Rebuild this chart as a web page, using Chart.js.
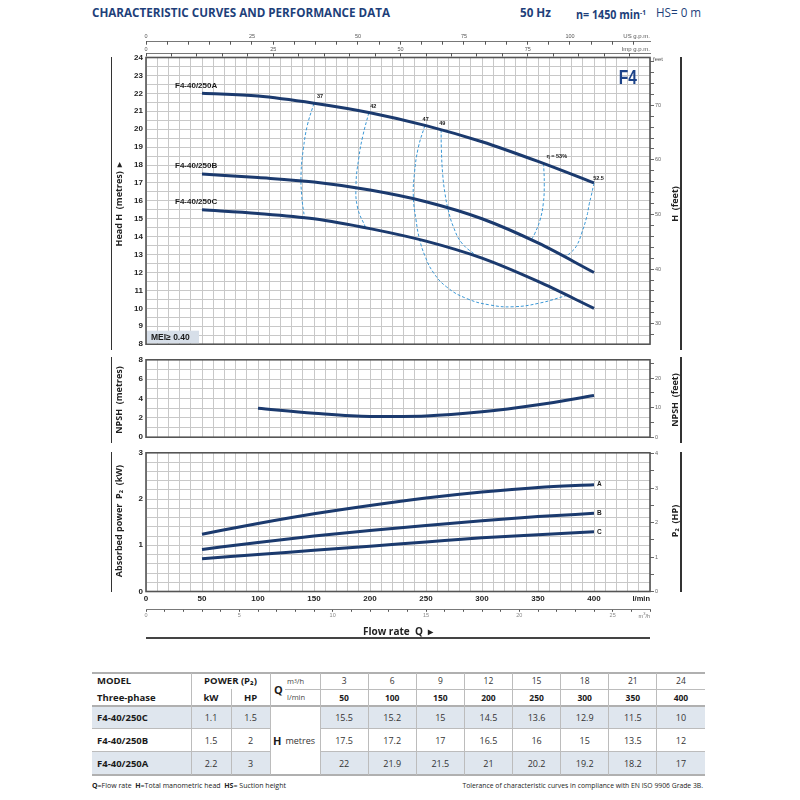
<!DOCTYPE html>
<html><head><meta charset="utf-8">
<script src="https://cdn.jsdelivr.net/npm/chart.js@4.4.1/dist/chart.umd.min.js"></script>
<style>
body{margin:0;width:800px;height:800px;position:relative;overflow:hidden;background:#fff;font-family:'Open Sans','Liberation Sans',sans-serif;color:#1a1a1a;}
.a{position:absolute;white-space:nowrap;}
canvas{position:absolute;left:0;}
.rot{position:absolute;transform:translate(-50%,-50%) rotate(-90deg);white-space:nowrap;font-weight:bold;font-size:9px;color:#222;line-height:11px;}
.hd{position:absolute;white-space:nowrap;font-weight:bold;font-size:12.5px;line-height:14px;color:#1e3f7a;transform-origin:0 50%;}
.sm{position:absolute;white-space:nowrap;font-family:'Liberation Sans',sans-serif;color:#555;transform:translateY(-50%);}
.c{display:flex;align-items:center;justify-content:center;}
.l{display:flex;align-items:center;justify-content:flex-start;}
</style></head><body>

<div class="hd" id="t1" style="left:92px;top:5.5px;">CHARACTERISTIC CURVES AND PERFORMANCE DATA</div>
<div class="hd" id="t2" style="left:520px;top:5.5px;">50 Hz</div>
<div class="hd" id="t3" style="left:576px;top:5.5px;font-size:11.5px;">n= 1450 min<span style="font-size:7px;vertical-align:4px">-1</span></div>
<div class="hd" id="t4" style="left:656px;top:5.5px;font-weight:normal;">HS= 0 m</div>

<canvas id="cH" width="800" height="352" style="top:0;width:800px;height:352px"></canvas>
<canvas id="cN" width="800" height="93" style="top:352px;width:800px;height:93px"></canvas>
<canvas id="cP" width="800" height="180" style="top:445px;width:800px;height:180px"></canvas>

<div class="sm" style="right:150px;top:36px;font-size:6px;">US g.p.m.</div>
<div class="sm" style="right:150px;top:49px;font-size:6px;">Imp g.p.m.</div>
<div class="sm" style="left:653px;top:59px;font-size:6px;">feet</div>
<div class="sm" style="right:150px;top:598px;font-size:7.5px;font-weight:bold;color:#222;">l/min</div>
<div class="sm" style="right:150px;top:615px;font-size:5.5px;color:#777;">m<sup style="font-size:4px">3</sup>/h</div>
<div class="a" style="left:398px;top:631px;transform:translate(-50%,-50%);font-weight:bold;font-size:10px;color:#222;">Flow rate&nbsp; Q&nbsp; ▸</div>
<div class="a" style="left:146px;top:636.5px;width:504px;height:2px;background:#444;"></div>

<div class="a" style="left:110.5px;top:57px;width:1.5px;height:293px;background:#333;"></div>
<div class="a" style="left:110.5px;top:357px;width:1.5px;height:86px;background:#333;"></div>
<div class="a" style="left:110.5px;top:451.5px;width:1.5px;height:140px;background:#333;"></div>
<div class="a" style="left:680px;top:57px;width:1.5px;height:293px;background:#333;"></div>
<div class="a" style="left:680px;top:357px;width:1.5px;height:86px;background:#333;"></div>
<div class="a" style="left:680px;top:451.5px;width:1.5px;height:140px;background:#333;"></div>

<div class="rot" style="left:118px;top:204px;">Head H&nbsp; (metres)&nbsp; ▸</div>
<div class="rot" style="left:118px;top:400px;">NPSH&nbsp; (metres)</div>
<div class="rot" style="left:118px;top:521px;">Absorbed power&nbsp; P₂&nbsp; (kW)</div>
<div class="rot" style="left:674px;top:204px;">H&nbsp; (feet)</div>
<div class="rot" style="left:674px;top:400px;">NPSH&nbsp; (feet)</div>
<div class="rot" style="left:674px;top:521px;">P₂&nbsp; (HP)</div>

<script>
// ---------- DATA ----------
const flowLmin = [50, 100, 150, 200, 250, 300, 350, 400];
const flowM3h  = [3, 6, 9, 12, 15, 18, 21, 24];
// table values (H metres)
const headA = [22, 21.9, 21.5, 21, 20.2, 19.2, 18.2, 17];
const headB = [17.5, 17.2, 17, 16.5, 16, 15, 13.5, 12];
const headC = [15.5, 15.2, 15, 14.5, 13.6, 12.9, 11.5, 10];
// head curves
const curveA = [22.0, 21.85, 21.45, 20.92, 20.2, 19.3, 18.2, 17.0];
const curveB = [17.5, 17.3, 17.05, 16.6, 15.95, 15.0, 13.65, 12.0];
const curveC = [15.5, 15.3, 15.0, 14.45, 13.75, 12.8, 11.5, 10.0];
const models  = ['F4-40/250C', 'F4-40/250B', 'F4-40/250A'];
const powerKW = [1.1, 1.5, 2.2];
const powerHP = [1.5, 2, 3];
const npshFlow = [100, 150, 200, 250, 300, 350, 400];
const npshM    = [3.0, 2.47, 2.14, 2.2, 2.62, 3.35, 4.3];
const powerA = [1.24, 1.47, 1.68, 1.86, 2.02, 2.15, 2.25, 2.31];
const powerB = [0.91, 1.06, 1.2, 1.32, 1.43, 1.53, 1.62, 1.69];
const powerC = [0.71, 0.80, 0.89, 0.98, 1.07, 1.16, 1.23, 1.29];
// iso-efficiency curves [Q l/min, H m]
const eff37  = [[150,21.45],[144,20.2],[140.5,18.9],[138.5,17.6],[139,16.3],[141.5,15.05]];
const eff42  = [[199,20.93],[193.5,19.6],[190,18.4],[187.5,16.9],[189,15.6],[196,14.52]];
const eff47  = [[249,20.21],[243,18.94],[239.6,17.48],[238.7,16.21],[241.1,14.93],[244,13.92],[249.1,12.92],[256.5,12.01],[268.5,11.19],[286.3,10.55],[307.1,10.19],[328,10.09],[351.8,10.3],[375.6,10.72]];
const eff49  = [[263.5,19.98],[263.7,18.94],[264.9,17.48],[267,16.39],[269.9,15.48],[274.4,14.56],[281.9,13.65],[295.3,12.92]];
const eff53  = [[355,18.1],[355.6,16.93],[354.7,15.84],[351.8,14.93],[347.3,14.2],[343.8,13.8]];
const eff525 = [[400,17],[397.6,16.3],[395.8,15.84],[393.5,15.11],[389,14.2],[384.5,13.5],[378.6,13.08],[373.5,12.88]];
const effLabels = [['37',155.4,21.83],['42',203,21.29],['47',249.7,20.53],['49',264.6,20.31],['η = 53%',366.7,18.45],['52.5',404,17.26]];

// ---------- constants ----------
const M2FT = 3.28084, LMIN_PER_USG = 3.78541, LMIN_PER_IMP = 4.54609, KW_PER_HP = 0.7457, M3H_PER_LMIN = 0.06;
const QMAX = 450;
const NAVY = '#1b3a6e', EFF = '#3b98d6', GRID = '#c8c8c8';
const FAM = "'Liberation Sans', Arial, sans-serif";
const tickFont = {family: FAM, size: 8, weight: 'bold'};
const smallFont = {family: FAM, size: 5.5};

Chart.defaults.font.family = FAM;

const pts = (xs, ys) => xs.map((x, i) => ({x, y: ys[i]}));
const pairs = arr => arr.map(([x, y]) => ({x, y}));
const mainLine = (data) => ({data, showLine: true, borderColor: NAVY, borderWidth: 3, pointRadius: 0, cubicInterpolationMode: 'monotone', fill: false});
const effLine = (data) => ({data, showLine: true, borderColor: EFF, borderWidth: 1, borderDash: [3, 2], pointRadius: 0, tension: 0.45, fill: false});

const frame = {
  id: 'frame',
  beforeDatasetsDraw(chart) {
    const {ctx, chartArea: a} = chart;
    ctx.save(); ctx.strokeStyle = '#555'; ctx.lineWidth = 1.6;
    ctx.strokeRect(a.left, a.top, a.right - a.left, a.bottom - a.top);
    ctx.restore();
  }
};
const annot = {
  id: 'annot',
  afterDatasetsDraw(chart, args, opts) {
    const ctx = chart.ctx, xs = chart.scales.x, ys = chart.scales.y, a = chart.chartArea;
    ctx.save();
    (opts.texts || []).forEach(t => {
      ctx.font = t.font; ctx.fillStyle = t.color || '#1a1a1a';
      ctx.textAlign = t.align || 'center'; ctx.textBaseline = 'middle';
      ctx.fillText(t.text, xs.getPixelForValue(t.x) + (t.dx || 0), ys.getPixelForValue(t.y) + (t.dy || 0));
    });
    if (opts.mei) {
      ctx.fillStyle = '#d7dfe9';
      ctx.fillRect(a.left + 1, a.bottom - 13.5, 52, 12.5);
      ctx.fillStyle = '#1a1a1a'; ctx.font = 'bold 8.5px ' + FAM; ctx.textAlign = 'left';
      ctx.fillText('MEI≥ 0.40', a.left + 5, a.bottom - 7);
    }
    if (opts.f4) {
      ctx.translate(a.right - 13, a.top + 26);
      ctx.scale(0.74, 1);
      ctx.fillStyle = '#1d4389'; ctx.font = 'bold 21px ' + FAM; ctx.textAlign = 'right'; ctx.textBaseline = 'alphabetic';
      ctx.fillText('F4', 0, 0);
    }
    ctx.restore();
  }
};

const hiddenX = (extra) => Object.assign({type: 'linear', position: 'bottom', min: 0, max: QMAX,
  ticks: {stepSize: 10, display: false, autoSkip: false},
  grid: {color: GRID, drawTicks: false, lineWidth: 1}, border: {display: false},
  afterFit: s => { s.height = 0; }}, extra || {});
const baseOpts = (padding, scales, plugOpts) => ({
  responsive: false, animation: false, events: [],
  layout: {padding},
  plugins: Object.assign({legend: {display: false}, tooltip: {enabled: false}}, plugOpts),
  scales
});

// ---------- HEAD CHART ----------
const nameFont = 'bold 8px ' + FAM, effFont = 'bold 5.5px ' + FAM;
new Chart(document.getElementById('cH'), {
  type: 'scatter',
  data: {datasets: [
    mainLine(pts(flowLmin, curveA)), mainLine(pts(flowLmin, curveB)), mainLine(pts(flowLmin, curveC)),
    effLine(pairs(eff37)), effLine(pairs(eff42)), effLine(pairs(eff47)),
    effLine(pairs(eff49)), effLine(pairs(eff53)), effLine(pairs(eff525))
  ]},
  options: baseOpts({left: 0, right: 0, top: 0, bottom: 2}, {
    x: hiddenX(),
    y: {type: 'linear', position: 'left', min: 8, max: 24,
      ticks: {stepSize: 0.5, autoSkip: false, padding: 3, font: tickFont, color: '#222', callback: v => Number.isInteger(v) ? v : ''},
      grid: {color: GRID, drawTicks: false}, border: {display: false}, afterFit: s => { s.width = 146; }},
    yFt: {type: 'linear', position: 'right', min: 8 * M2FT, max: 24 * M2FT,
      ticks: {stepSize: 2, includeBounds: false, autoSkip: false, padding: 1, font: smallFont, color: '#666', callback: v => v % 10 === 0 ? v : ''},
      grid: {drawOnChartArea: false, tickLength: 4, color: '#666'}, border: {display: false}, afterFit: s => { s.width = 150; }},
    xGap: {type: 'linear', position: 'top', weight: 0, min: 0, max: 1, ticks: {display: false}, grid: {display: false}, border: {display: false}, afterFit: s => { s.height = 4; }},
    xImp: {type: 'linear', position: 'top', weight: 1, min: 0, max: QMAX / LMIN_PER_IMP,
      ticks: {stepSize: 5, includeBounds: false, autoSkip: false, maxRotation: 0, padding: 3.6, font: smallFont, color: '#555', callback: v => v % 25 === 0 ? v : ''},
      grid: {drawOnChartArea: false, tickLength: -3, color: '#555'}, border: {display: true, color: '#555', width: 0.8}, afterFit: s => { s.height = 11.8; }},
    xUS: {type: 'linear', position: 'top', weight: 2, min: 0, max: QMAX / LMIN_PER_USG,
      ticks: {stepSize: 5, includeBounds: false, autoSkip: false, maxRotation: 0, padding: 5.1, font: smallFont, color: '#555', callback: v => v % 25 === 0 ? v : ''},
      grid: {drawOnChartArea: false, tickLength: -3, color: '#555'}, border: {display: true, color: '#555', width: 0.8}, afterFit: s => { s.height = 41.7; }}
  }, {annot: {
    mei: true, f4: true,
    texts: [
      {text: 'F4-40/250A', x: flowLmin[0], y: curveA[0], dx: -27, dy: -8, align: 'left', font: nameFont},
      {text: 'F4-40/250B', x: flowLmin[0], y: curveB[0], dx: -27, dy: -8, align: 'left', font: nameFont},
      {text: 'F4-40/250C', x: flowLmin[0], y: curveC[0], dx: -27, dy: -8, align: 'left', font: nameFont}
    ].concat(effLabels.map(([t, q, h]) => ({text: t, x: q, y: h, font: effFont})))
  }}),
  plugins: [frame, annot]
});

// ---------- NPSH CHART ----------
new Chart(document.getElementById('cN'), {
  type: 'scatter',
  data: {datasets: [mainLine(pts(npshFlow, npshM))]},
  options: baseOpts({left: 0, right: 0, top: 5, bottom: 2}, {
    x: hiddenX(),
    y: {type: 'linear', position: 'left', min: 0, max: 8,
      ticks: {stepSize: 1, autoSkip: false, padding: 3, font: tickFont, color: '#222', callback: v => v % 2 === 0 ? v : ''},
      grid: {color: GRID, drawTicks: false}, border: {display: false}, afterFit: s => { s.width = 146; }},
    yFt: {type: 'linear', position: 'right', min: 0, max: 8 * M2FT,
      ticks: {stepSize: 5, includeBounds: false, autoSkip: false, padding: 1, font: smallFont, color: '#666', callback: v => v % 10 === 0 ? v : ''},
      grid: {drawOnChartArea: false, tickLength: 4, color: '#666'}, border: {display: false}, afterFit: s => { s.width = 150; }}
  }, {}),
  plugins: [frame]
});

// ---------- POWER CHART ----------
const abcFont = 'bold 6.5px ' + FAM;
new Chart(document.getElementById('cP'), {
  type: 'scatter',
  data: {datasets: [mainLine(pts(flowLmin, powerA)), mainLine(pts(flowLmin, powerB)), mainLine(pts(flowLmin, powerC))]},
  options: baseOpts({left: 0, right: 0, top: 6.5, bottom: 0}, {
    x: hiddenX({weight: 0,
      ticks: {stepSize: 10, display: true, autoSkip: false, maxRotation: 0, padding: 2, font: tickFont, color: '#222', callback: v => (v % 50 === 0 && v <= 400) ? v : ''},
      afterFit: s => { s.height = 17.8; }}),
    xM3: {type: 'linear', position: 'bottom', weight: 1, min: 0, max: QMAX * M3H_PER_LMIN,
      ticks: {stepSize: 1, includeBounds: false, autoSkip: false, maxRotation: 0, padding: 0, font: smallFont, color: '#888', callback: v => v % 5 === 0 ? v : ''},
      grid: {drawOnChartArea: false, tickLength: 2.5, color: '#555'}, border: {display: true, color: '#555', width: 0.8}, afterFit: s => { s.height = 15.7; }},
    y: {type: 'linear', position: 'left', min: 0, max: 3,
      ticks: {stepSize: 0.2, autoSkip: false, padding: 3, font: tickFont, color: '#222', callback: v => Number.isInteger(v) ? v : ''},
      grid: {color: GRID, drawTicks: false}, border: {display: false}, afterFit: s => { s.width = 146; }},
    yHP: {type: 'linear', position: 'right', min: 0, max: 3 / KW_PER_HP,
      ticks: {stepSize: 0.5, includeBounds: false, autoSkip: false, padding: 1, font: smallFont, color: '#666', callback: v => Number.isInteger(v) ? v : ''},
      grid: {drawOnChartArea: false, tickLength: 4, color: '#666'}, border: {display: false}, afterFit: s => { s.width = 150; }}
  }, {annot: {texts: [
    {text: 'A', x: 400, y: powerA[7], dx: 3, align: 'left', font: abcFont},
    {text: 'B', x: 400, y: powerB[7], dx: 3, align: 'left', font: abcFont},
    {text: 'C', x: 400, y: powerC[7], dx: 3, align: 'left', font: abcFont}
  ]}}),
  plugins: [frame, annot]
});

// ---------- TABLE ----------
function div(l, t, w, h, css, html, cls) {
  const d = document.createElement('div');
  d.className = 'a' + (cls ? ' ' + cls : '');
  d.style.cssText = `left:${l}px;top:${t}px;width:${w}px;height:${h}px;` + (css || '');
  if (html !== undefined) d.innerHTML = html;
  document.body.appendChild(d);
  return d;
}
const X0 = 92, XR = 705, C1 = 191, C2 = 231, C3 = 270, C4 = 320, CW = (XR - C4) / 8;
const R0 = 672.5, R1 = 689, R2 = 705.7, R3 = 728.6, R4 = 751.8, R5 = 775;
const rowsY = [[R2, R3], [R3, R4], [R4, R5]];
const rowHeads = [headC, headB, headA];
const SHADE = '#dfe6ee', LINE = '#bcbcbc', THICK = '#b0b0b0';
[0, 2].forEach(r => {
  const [t, b] = rowsY[r];
  div(X0, t, C3 - X0, b - t, 'background:' + SHADE);
  div(C4, t, XR - C4, b - t, 'background:' + SHADE);
});
div(X0, R0 - 1, XR - X0, 2, 'background:' + THICK);
div(285, R1, XR - 285, 1, 'background:' + LINE);
div(X0, R2 - 1, XR - X0, 2, 'background:' + THICK);
[R3, R4].forEach(y => { div(X0, y - 0.5, C3 - X0, 1, 'background:' + LINE); div(C4, y - 0.5, XR - C4, 1, 'background:' + LINE); });
div(X0, R5 - 1, XR - X0, 2, 'background:' + THICK);
[C1, C3, C4].forEach(x => div(x - 0.5, R0, 1, R5 - R0, 'background:' + LINE));
div(C2 - 0.5, R1, 1, R5 - R1, 'background:' + LINE);
for (let i = 1; i < 8; i++) div(C4 + i * CW - 0.5, R0, 1, R5 - R0, 'background:' + LINE);
const B95 = 'font-weight:bold;font-size:9.5px;color:#1a1a1a;';
div(97, R0, 90, R1 - R0, B95, 'MODEL', 'l');
div(97, R1, 90, R2 - R1, B95, 'Three-phase', 'l');
div(C1, R0, C3 - C1, R1 - R0, B95, 'POWER (P₂)', 'c');
div(C1, R1, C2 - C1, R2 - R1, B95, 'kW', 'c');
div(C2, R1, C3 - C2, R2 - R1, B95, 'HP', 'c');
div(274, R0, 10, R2 - R0, 'font-weight:bold;font-size:11px;', 'Q', 'l');
div(287, R0, 30, R1 - R0, 'font-size:7.5px;color:#444;', 'm<sup style="font-size:5px">3</sup>/h', 'l');
div(287, R1, 30, R2 - R1, 'font-size:7.5px;color:#444;', 'l/min', 'l');
flowM3h.forEach((v, i) => div(C4 + i * CW, R0, CW, R1 - R0, 'font-size:8.5px;color:#333;', String(v), 'c'));
flowLmin.forEach((v, i) => div(C4 + i * CW, R1, CW, R2 - R1, 'font-weight:bold;font-size:8.5px;color:#1a1a1a;', String(v), 'c'));
models.forEach((m, r) => {
  const [t, b] = rowsY[r];
  div(97, t, 90, b - t, B95, m, 'l');
  div(C1, t, C2 - C1, b - t, 'font-size:9px;color:#333;', String(powerKW[r]), 'c');
  div(C2, t, C3 - C2, b - t, 'font-size:9px;color:#333;', String(powerHP[r]), 'c');
  rowHeads[r].forEach((v, i) => div(C4 + i * CW, t, CW, b - t, 'font-size:9px;color:#333;', String(v), 'c'));
});
div(273, R2, 46, R5 - R2, 'font-size:9px;color:#333;', '<b style="font-size:11px;color:#1a1a1a;margin-right:4px">H</b>metres', 'l');
div(92, 779, 300, 12, 'font-size:7px;color:#222;', '<b>Q</b> =Flow rate&nbsp;&nbsp; <b>H</b> =Total manometric head&nbsp;&nbsp; <b>HS</b> = Suction height', 'l');
div(405, 779, 298, 12, 'font-size:6.8px;color:#222;justify-content:flex-end;', 'Tolerance of characteristic curves in compliance with EN ISO 9906 Grade 3B.', 'l');

// condense header text uniformly (narrow typeface look)
const t1 = document.getElementById('t1');
const K = 298 / t1.offsetWidth;
['t1', 't2', 't3', 't4'].forEach(id => { document.getElementById(id).style.transform = `scaleX(${K})`; });
</script>
</body></html>
